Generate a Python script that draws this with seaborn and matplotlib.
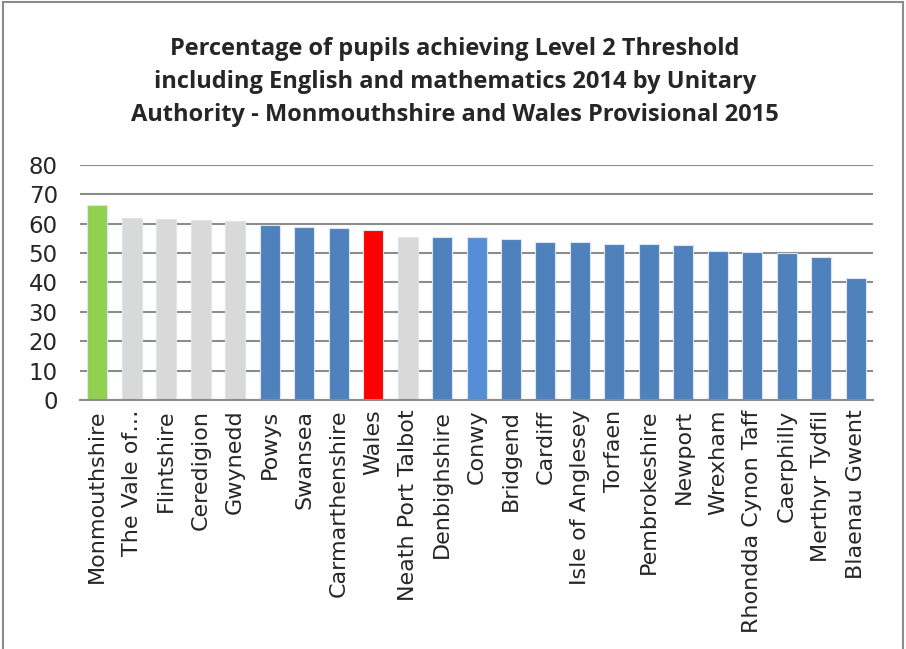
import matplotlib
matplotlib.use("Agg")
import matplotlib.pyplot as plt
import matplotlib.patches as mpatches
import seaborn as sns
import pandas as pd

# data
authorities = ["Monmouthshire", "The Vale of…", "Flintshire", "Ceredigion", "Gwynedd",
               "Powys", "Swansea", "Carmarthenshire", "Wales", "Neath Port Talbot",
               "Denbighshire", "Conwy", "Bridgend", "Cardiff", "Isle of Anglesey",
               "Torfaen", "Pembrokeshire", "Newport", "Wrexham", "Rhondda Cynon Taff",
               "Caerphilly", "Merthyr Tydfil", "Blaenau Gwent"]
pct = [66.4, 62.0, 61.6, 61.3, 61.0, 59.4, 58.9, 58.6, 57.9, 55.5,
       55.5, 55.6, 54.7, 53.9, 53.7, 53.1, 53.0, 52.6, 50.8, 50.4,
       49.9, 48.7, 41.6]
bar_colors = ["#92D050", "#D9D9D9", "#D9D9D9", "#D9D9D9", "#D9D9D9",
              "#4F81BD", "#4F81BD", "#4F81BD", "#FF0000", "#D9D9D9",
              "#4F81BD", "#558ED5", "#4F81BD", "#4F81BD", "#4F81BD",
              "#4F81BD", "#4F81BD", "#4F81BD", "#4F81BD", "#4F81BD",
              "#4F81BD", "#4F81BD", "#4F81BD"]
yticks = [0, 10, 20, 30, 40, 50, 60, 70, 80]

df = pd.DataFrame({"authority": authorities, "pct": pct})

sns.set_style("white")
plt.rcParams['font.family'] = ['DejaVu Sans']

fig = plt.figure(figsize=(9.06, 6.49), dpi=100)
ax = fig.add_axes([0.0883, 0.3837, 0.8753, 0.3621])

sns.barplot(data=df, x="authority", y="pct", hue="authority",
            palette=bar_colors, legend=False, width=0.58, ax=ax,
            edgecolor="#DCE6F2", linewidth=0.8, saturation=1)

ax.set_ylim(0, 80)
ax.set_xlim(-0.5, len(authorities) - 0.5)
ax.set_yticks(yticks)
ax.yaxis.grid(True, color="#8C8C8C", linewidth=1.5)
ax.set_axisbelow(True)
for s in ["left", "right", "top"]:
    ax.spines[s].set_visible(False)
ax.spines["bottom"].set_color("#8C8C8C")
ax.spines["bottom"].set_linewidth(1.5)
ax.tick_params(axis="both", length=0)
ax.tick_params(axis="y", labelsize=16.5, pad=16)
ax.tick_params(axis="x", labelsize=16, pad=7)
plt.setp(ax.get_xticklabels(), rotation=90)
ax.set_xlabel("")
ax.set_ylabel("")

fig.text(0.502, 0.873,
         "Percentage of pupils achieving Level 2 Threshold\n"
         "including English and mathematics 2014 by Unitary\n"
         "Authority - Monmouthshire and Wales Provisional 2015",
         ha="center", va="center", fontsize=17, fontweight="bold",
         linespacing=1.5, family=["Open Sans", "DejaVu Sans"])

# outer chart border
fig.patches.append(mpatches.Rectangle((3 / 906, -0.1), 900 / 906, 1.1 - 2 / 649,
                                      transform=fig.transFigure, fill=False,
                                      edgecolor="#8C8C8C", linewidth=1.5))

fig.savefig("out.png", dpi=100)
